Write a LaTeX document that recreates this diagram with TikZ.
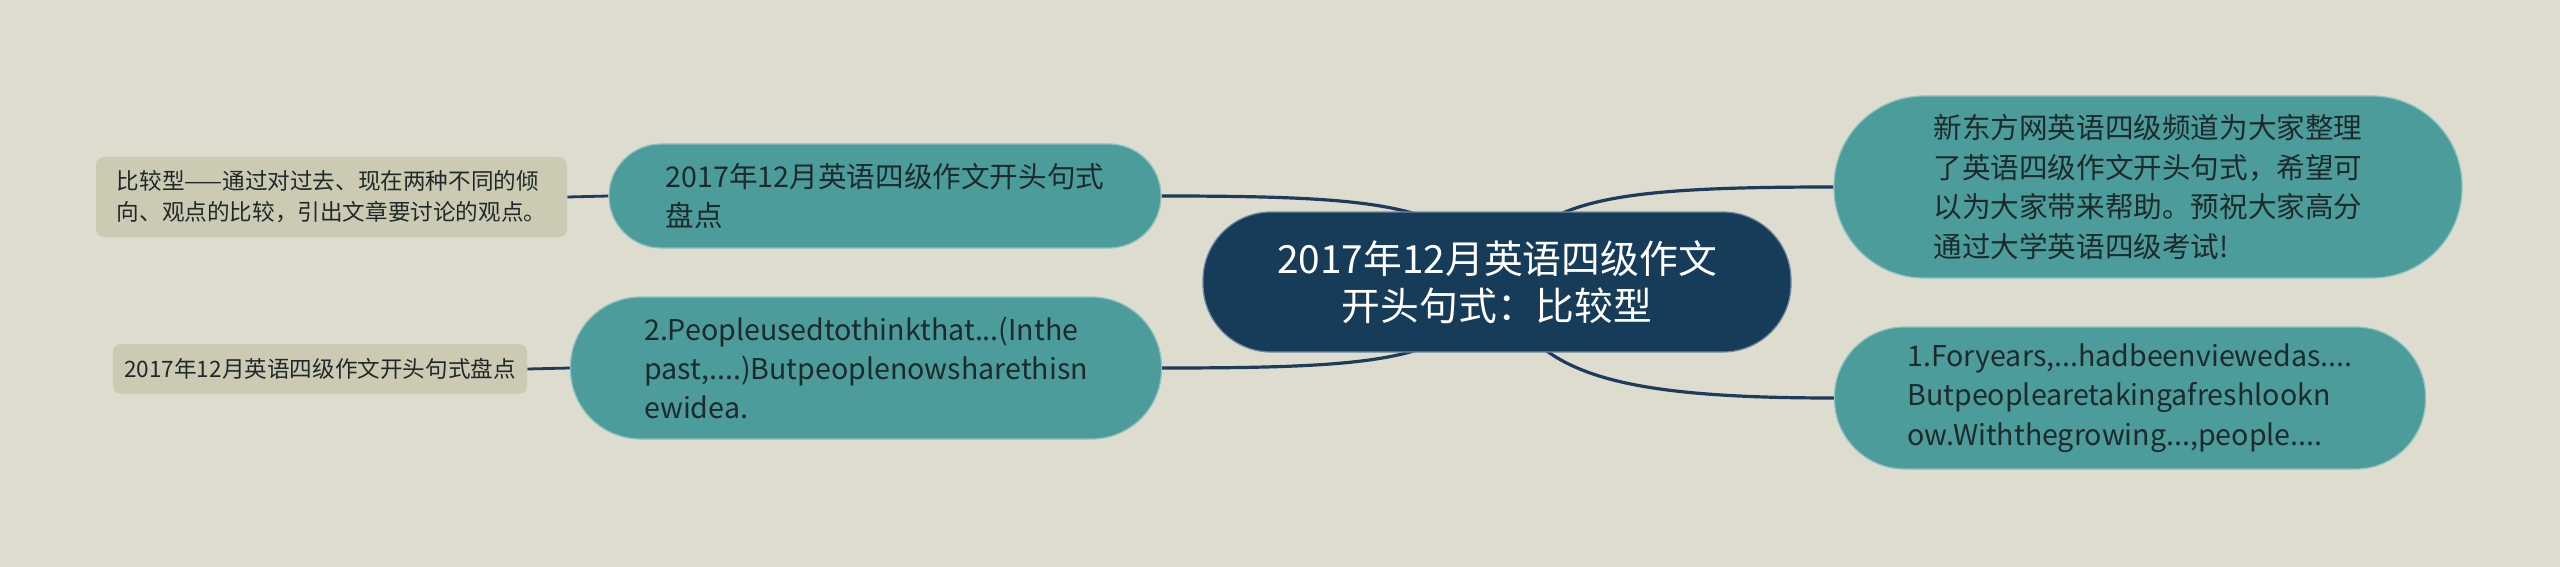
\documentclass[tikz,border=0pt]{standalone}
\usepackage{fontspec}
\setmainfont{Noto Sans CJK SC}
\usetikzlibrary{backgrounds}
\definecolor{bg}{HTML}{DEDCCE}
\definecolor{navy}{HTML}{173C5A}
\definecolor{navyedge}{HTML}{6F8AA0}
\definecolor{tealc}{HTML}{4D9C9C}
\definecolor{tealedge}{HTML}{8CC2C0}
\definecolor{graybox}{HTML}{CDCAB3}
\definecolor{linec}{HTML}{1D3C5C}
\definecolor{txt}{HTML}{1E2A2A}
\begin{document}
\begin{tikzpicture}[x=0.5pt,y=-0.5pt,
  mainbox/.style={fill=navy, draw=navyedge, line width=0.6pt, rounded corners=34pt,
    minimum width=294pt, minimum height=70pt, text=white, align=center, inner sep=0pt,
    font=\fontsize{19.4pt}{23.5pt}\selectfont},
  tealbox/.style={fill=tealc, draw=tealedge, line width=0.6pt, text=txt, align=left, inner sep=0pt,
    font=\fontsize{14.3pt}{19.7pt}\selectfont},
  graybox/.style={fill=graybox, rounded corners=4pt, text=txt, align=left, inner sep=0pt,
    font=\fontsize{11.3pt}{15.5pt}\selectfont},
  conn/.style={draw=linec, line width=1.6pt},
  leaf/.style={draw=linec, line width=1.4pt}]
\node[mainbox] (c) at (1497,282) {2017年12月英语四级作文\\开头句式：比较型};
\node[tealbox, minimum width=314pt, minimum height=91pt, rounded corners=45pt] (rt) at (2148,187)
  {新东方网英语四级频道为大家整理\\了英语四级作文开头句式，希望可\\以为大家带来帮助。预祝大家高分\\通过大学英语四级考试!};
\node[tealbox, minimum width=295.5pt, minimum height=71pt, rounded corners=35pt] (rb) at (2130,398)
  {1.Foryears,...hadbeenviewedas....\\Butpeoplearetakingafreshlookn\\ow.Withthegrowing...,people....};
\node[tealbox, minimum width=276pt, minimum height=52pt, rounded corners=26pt] (lt) at (885,196)
  {2017年12月英语四级作文开头句式\\盘点};
\node[tealbox, minimum width=295.5pt, minimum height=71pt, rounded corners=35pt] (lb) at (866,368)
  {2.Peopleusedtothinkthat...(Inthe\\past,....)Butpeoplenowsharethisn\\ewidea.};
\node[graybox, minimum width=235.5pt, minimum height=40pt] (g1) at (331.5,197)
  {比较型——通过对过去、现在两种不同的倾\\向、观点的比较，引出文章要讨论的观点。};
\node[graybox, minimum width=207pt, minimum height=25pt] (g2) at (320,369)
  {2017年12月英语四级作文开头句式盘点};
\begin{scope}[on background layer]
  \fill[bg] (0,0) rectangle (2560,567);
  \draw[conn] (c.center) .. controls (1530,200) and (1600,187) .. (rt.west);
  \draw[conn] (c.center) .. controls (1530,370) and (1600,398) .. (rb.west);
  \draw[conn] (c.center) .. controls (1460,205) and (1390,196) .. (lt.east);
  \draw[conn] (c.center) .. controls (1460,360) and (1390,368) .. (lb.east);
  \draw[leaf] (lt.west) -- (g1.east);
  \draw[leaf] (lb.west) -- (g2.east);
\end{scope}
\useasboundingbox (0,0) rectangle (2560,567);
\end{tikzpicture}
\end{document}
